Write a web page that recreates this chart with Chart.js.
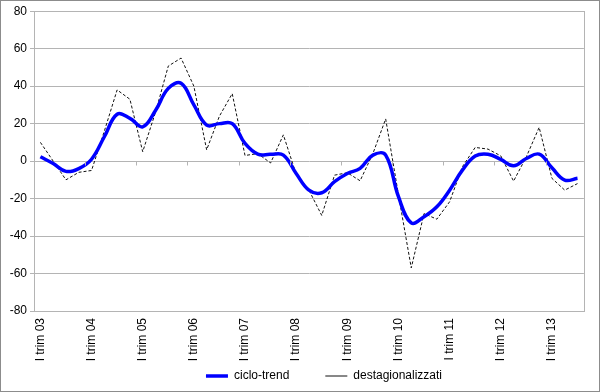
<!DOCTYPE html>
<html lang="it">
<head>
    <meta charset="UTF-8">
    <title>ciclo-trend</title>
    <script src="https://cdn.jsdelivr.net/npm/chart.js@4.4.1/dist/chart.umd.min.js"></script>
    <style>
        * { margin: 0; padding: 0; box-sizing: border-box; }
        body { background: #fff; }
        .frame {
            width: 600px;
            height: 392px;
            border: 1px solid #8c8c8c;
            background: #fff;
        }
        canvas { display: block; }
    </style>
</head>
<body>
    <div class="frame">
        <canvas id="trendChart" width="598" height="390"></canvas>
    </div>

    <script>
        // quarters Q1 2003 .. Q3 2013
        const categories = [
            'I trim 03', 'II trim 03', 'III trim 03', 'IV trim 03',
            'I trim 04', 'II trim 04', 'III trim 04', 'IV trim 04',
            'I trim 05', 'II trim 05', 'III trim 05', 'IV trim 05',
            'I trim 06', 'II trim 06', 'III trim 06', 'IV trim 06',
            'I trim 07', 'II trim 07', 'III trim 07', 'IV trim 07',
            'I trim 08', 'II trim 08', 'III trim 08', 'IV trim 08',
            'I trim 09', 'II trim 09', 'III trim 09', 'IV trim 09',
            'I trim 10', 'II trim 10', 'III trim 10', 'IV trim 10',
            'I trim 11', 'II trim 11', 'III trim 11', 'IV trim 11',
            'I trim 12', 'II trim 12', 'III trim 12', 'IV trim 12',
            'I trim 13', 'II trim 13', 'III trim 13'
        ];

        const cicloTrend = [
            2.3, -1.3, -5.5, -4, 1, 13, 25, 22.8, 18.3, 27, 38.8, 41.5,
            30, 19.2, 20, 20, 9.4, 3.7, 3.6, 3.2, -6.6, -15.5, -16.9, -11,
            -6.6, -3.9, 3.2, 3.2, -19, -33, -29.7, -24.4, -15.5, -4.8, 2.7, 3.7,
            0.9, -2.5, 1.4, 3.7, -3.6, -10.1, -9.2
        ];

        const destagionalizzati = [
            10, 0, -10, -6, -5, 16, 38, 33, 5, 26, 50.7, 55,
            40, 6, 24, 36, 3, 4, -1, 14, -7, -15.5, -29, -7.5,
            -6.2, -10.5, 4, 22.5, -18, -57, -28, -31, -21.7, -3, 7.3, 6.4,
            2.8, -10.7, 2.3, 18, -9.2, -15.5, -12
        ];

        const yTicks = [-80, -60, -40, -20, 0, 20, 40, 60, 80];
        const labelEvery = 4;
        const legendCenterX = 323;
        const legendCenterY = 375;
        const legendPadding = 36;
        const fontSize = 12;

        // plot frame + small category tick marks on the zero line
        const framePlugin = {
            id: 'framePlugin',
            afterLayout(chart) {
                // Excel puts the legend a bit right of centre, just under the labels
                const lg = chart.legend;
                const shiftX = legendCenterX - (lg.left + lg.right) / 2;
                lg.left += shiftX;
                lg.right += shiftX;
                lg.top = legendCenterY - legendPadding - fontSize / 2;
                lg.bottom = chart.height;
                lg.height = lg.bottom - lg.top;
            },
            afterDraw(chart) {
                const { ctx, chartArea, scales } = chart;
                ctx.save();
                ctx.strokeStyle = '#b4b4b4';
                ctx.lineWidth = 1;
                ctx.strokeRect(Math.round(chartArea.left) + 0.5, Math.round(chartArea.top) + 0.5,
                    Math.round(chartArea.right - chartArea.left), Math.round(chartArea.bottom - chartArea.top));
                const y0 = Math.round(scales.y.getPixelForValue(0)) + 0.5;
                ctx.beginPath();
                for (let i = labelEvery; i < categories.length; i += labelEvery) {
                    const xb = Math.round((scales.x.getPixelForValue(i - 1) + scales.x.getPixelForValue(i)) / 2) + 0.5;
                    ctx.moveTo(xb, y0);
                    ctx.lineTo(xb, y0 + 4);
                }
                ctx.stroke();
                ctx.restore();
            }
        };

        const ctx = document.getElementById('trendChart').getContext('2d');
        new Chart(ctx, {
            type: 'line',
            data: {
                labels: categories,
                datasets: [{
                    label: 'ciclo-trend',
                    data: cicloTrend,
                    borderColor: '#0000ff',
                    backgroundColor: '#0000ff',
                    borderWidth: 3.5,
                    pointRadius: 0,
                    tension: 0.4,
                    fill: false
                }, {
                    label: 'destagionalizzati',
                    data: destagionalizzati,
                    borderColor: '#111111',
                    backgroundColor: '#111111',
                    borderWidth: 1,
                    borderDash: [3, 2],
                    pointRadius: 0,
                    tension: 0,
                    fill: false
                }]
            },
            options: {
                responsive: false,
                animation: false,
                layout: {
                    padding: { left: 0, right: 8, top: 10, bottom: 0 }
                },
                scales: {
                    x: {
                        offset: true,
                        grid: { display: false, drawTicks: false },
                        border: { display: false },
                        ticks: {
                            autoSkip: false,
                            minRotation: 90,
                            maxRotation: 90,
                            padding: 7,
                            color: '#000',
                            font: { family: 'Liberation Sans, Arial', size: fontSize },
                            callback: (val, i) => (i % labelEvery === 0 ? categories[i] : '')
                        },
                        afterFit: (scale) => { scale.height = 56; }
                    },
                    y: {
                        min: -80,
                        max: 80,
                        afterBuildTicks: (scale) => { scale.ticks = yTicks.map(v => ({ value: v })); },
                        grid: {
                            color: '#b4b4b4',
                            lineWidth: 1,
                            tickLength: 4,
                            drawTicks: true
                        },
                        border: { color: '#b4b4b4' },
                        ticks: {
                            color: '#000',
                            padding: 3,
                            font: { family: 'Liberation Sans, Arial', size: fontSize }
                        },
                        afterFit: (scale) => { scale.width = 33; }
                    }
                },
                plugins: {
                    legend: {
                        position: 'bottom',
                        maxHeight: 24,
                        labels: {
                            usePointStyle: true,
                            pointStyle: 'line',
                            pointStyleWidth: 22,
                            padding: legendPadding,
                            color: '#000',
                            font: { family: 'Liberation Sans, Arial', size: fontSize }
                        }
                    },
                    tooltip: { enabled: false }
                }
            },
            plugins: [framePlugin]
        });
    </script>
</body>
</html>
